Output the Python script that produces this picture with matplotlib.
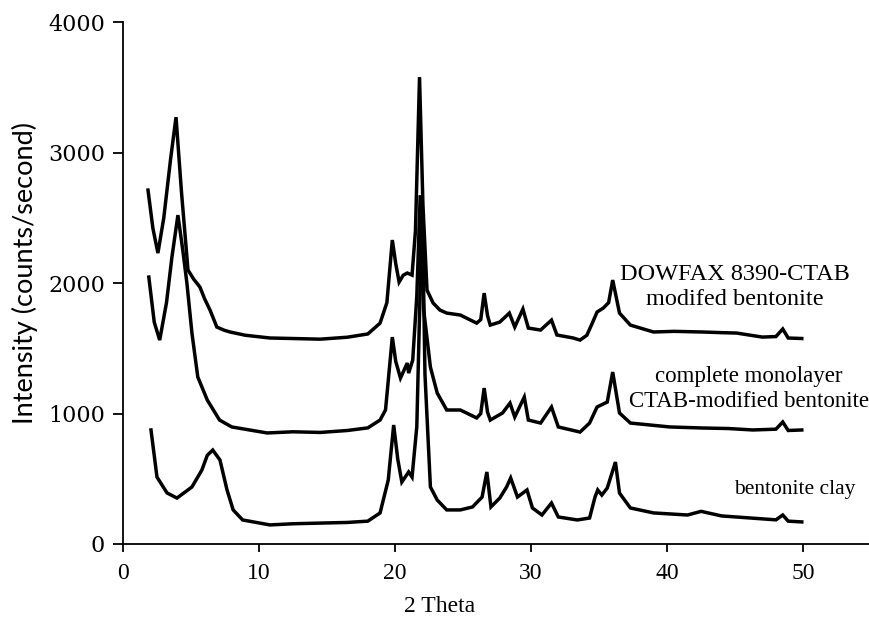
import matplotlib.pyplot as plt

# --- XRD patterns ---

# DOWFAX 8390-CTAB modified bentonite (top trace)
dowfax_theta = [1.84, 2.2, 2.57, 3.0, 3.5, 3.9, 4.3, 4.78, 5.2, 5.66, 6.0, 6.4, 6.9, 7.4, 7.87,
                9.0, 10.8, 12.5, 14.5, 16.5, 18.0, 18.9, 19.4, 19.8, 20.05, 20.3, 20.6, 20.9,
                21.25, 21.5, 21.8, 22.05, 22.35, 22.8, 23.3, 23.8, 24.8, 26.0, 26.3, 26.55,
                26.8, 27.0, 27.7, 28.4, 28.8, 29.4, 29.8, 30.7, 31.5, 31.9, 33.1, 33.6, 34.1,
                34.5, 34.85, 35.3, 35.7, 36.0, 36.5, 37.3, 39.0, 40.5, 42.6, 44.0, 45.1, 47.0,
                48.0, 48.5, 48.9, 49.9]
dowfax_int = [2713, 2420, 2230, 2500, 2950, 3272, 2700, 2100, 2030, 1969, 1880, 1793, 1663, 1640,
              1625, 1600, 1579, 1575, 1570, 1585, 1610, 1693, 1850, 2330, 2150, 2008, 2060, 2077,
              2061, 2400, 3579, 2600, 1946, 1847, 1793, 1770, 1755, 1693, 1720, 1923, 1750, 1678,
              1701, 1770, 1663, 1801, 1655, 1640, 1716, 1602, 1579, 1563, 1600, 1693, 1778, 1808,
              1850, 2023, 1770, 1678, 1625, 1630, 1625, 1620, 1617, 1586, 1590, 1648, 1579, 1575]

# complete monolayer CTAB-modified bentonite (middle trace)
ctab_theta = [1.9, 2.3, 2.7, 3.2, 3.6, 4.04, 4.4, 4.7, 5.07, 5.5, 6.2, 7.1, 8.0, 10.6, 12.5, 14.5,
              16.5, 18.0, 18.9, 19.3, 19.8, 20.05, 20.4, 20.9, 21.0, 21.3, 21.6, 21.85, 22.1,
              22.6, 23.1, 23.8, 24.8, 26.0, 26.3, 26.55, 26.8, 27.0, 27.9, 28.45, 28.8, 29.5,
              29.8, 30.7, 31.5, 32.0, 33.6, 34.3, 34.85, 35.6, 36.0, 36.5, 37.3, 40.2, 42.6,
              44.5, 46.3, 48.0, 48.5, 48.9, 49.9]
ctab_int = [2046, 1700, 1563, 1850, 2200, 2521, 2250, 2000, 1617, 1280, 1103, 950, 897, 851, 860,
            855, 870, 890, 950, 1027, 1586, 1400, 1272, 1387, 1310, 1410, 1900, 2674, 1800, 1356,
            1157, 1027, 1027, 966, 1000, 1195, 1010, 950, 1004, 1080, 973, 1126, 950, 927, 1050,
            897, 858, 927, 1050, 1088, 1318, 1004, 927, 897, 889, 885, 874, 880, 935, 870, 874]

# bentonite clay (bottom trace)
clay_theta = [2.06, 2.5, 3.24, 3.97, 5.07, 5.8, 6.2, 6.6, 7.13, 7.65, 8.1, 8.8, 10.8, 12.5, 14.5,
              16.5, 18.0, 18.9, 19.5, 19.9, 20.2, 20.5, 21.0, 21.25, 21.6, 22.0, 22.2, 22.6, 23.1,
              23.8, 24.8, 25.7, 26.4, 26.75, 27.05, 27.7, 28.2, 28.5, 29.0, 29.7, 30.1, 30.8,
              31.5, 32.0, 33.4, 34.3, 34.7, 34.9, 35.2, 35.6, 36.2, 36.5, 37.3, 39.0, 41.5, 42.5,
              44.0, 46.0, 48.0, 48.5, 48.9, 49.9]
clay_int = [874, 513, 391, 352, 437, 567, 680, 720, 644, 414, 261, 184, 146, 155, 160, 165, 175,
            238, 490, 912, 650, 475, 552, 513, 900, 2620, 1300, 437, 337, 261, 261, 284, 360, 552,
            284, 352, 437, 506, 360, 414, 276, 222, 314, 207, 184, 199, 360, 414, 375, 429, 628,
            390, 276, 238, 222, 250, 215, 200, 185, 222, 175, 169]

x_ticks = [0, 10, 20, 30, 40, 50]
y_ticks = [0, 1000, 2000, 3000, 4000]

serif = 'Liberation Serif'

fig = plt.figure(figsize=(8.69, 6.34), dpi=100)
ax = fig.add_axes([0.1415, 0.142, 0.861, 0.823])

for theta, counts in [(dowfax_theta, dowfax_int),
                      (ctab_theta, ctab_int),
                      (clay_theta, clay_int)]:
    ax.plot(theta, counts, color='black', linewidth=2.5, solid_joinstyle='miter')

# curve labels
ax.text(45.0, 1970, "DOWFAX 8390-CTAB\nmodifed bentonite", ha='center', va='center',
        fontsize=17.5, family=serif, linespacing=1.25)
ax.text(46.0, 1185, "complete monolayer\nCTAB-modified bentonite", ha='center', va='center',
        fontsize=16.5, family=serif, linespacing=1.25)
ax.text(49.4, 414, "bentonite clay", ha='center', va='center', fontsize=15.5, family=serif)

ax.set_xlim(0, 55)
ax.set_ylim(0, 4000)
ax.set_xticks(x_ticks)
ax.set_yticks(y_ticks)
ax.spines['top'].set_visible(False)
ax.spines['right'].set_visible(False)
ax.spines['left'].set_linewidth(1.3)
ax.spines['bottom'].set_linewidth(1.3)
ax.tick_params(axis='x', direction='out', length=6, width=1.3, pad=8,
               labelsize=17, labelfontfamily=serif)
ax.tick_params(axis='y', direction='out', length=7, width=1.3, pad=6,
               labelsize=16, labelfontfamily='DejaVu Serif')

ax.set_xlabel("2 Theta", fontsize=17, family=serif)
ax.xaxis.set_label_coords(23.3 / 55, -0.10)
ax.set_ylabel("Intensity (counts/second)", fontsize=19.5, family='Lato')
ax.yaxis.set_label_coords(-0.113, 0.52)

fig.savefig("out.png", dpi=100)
